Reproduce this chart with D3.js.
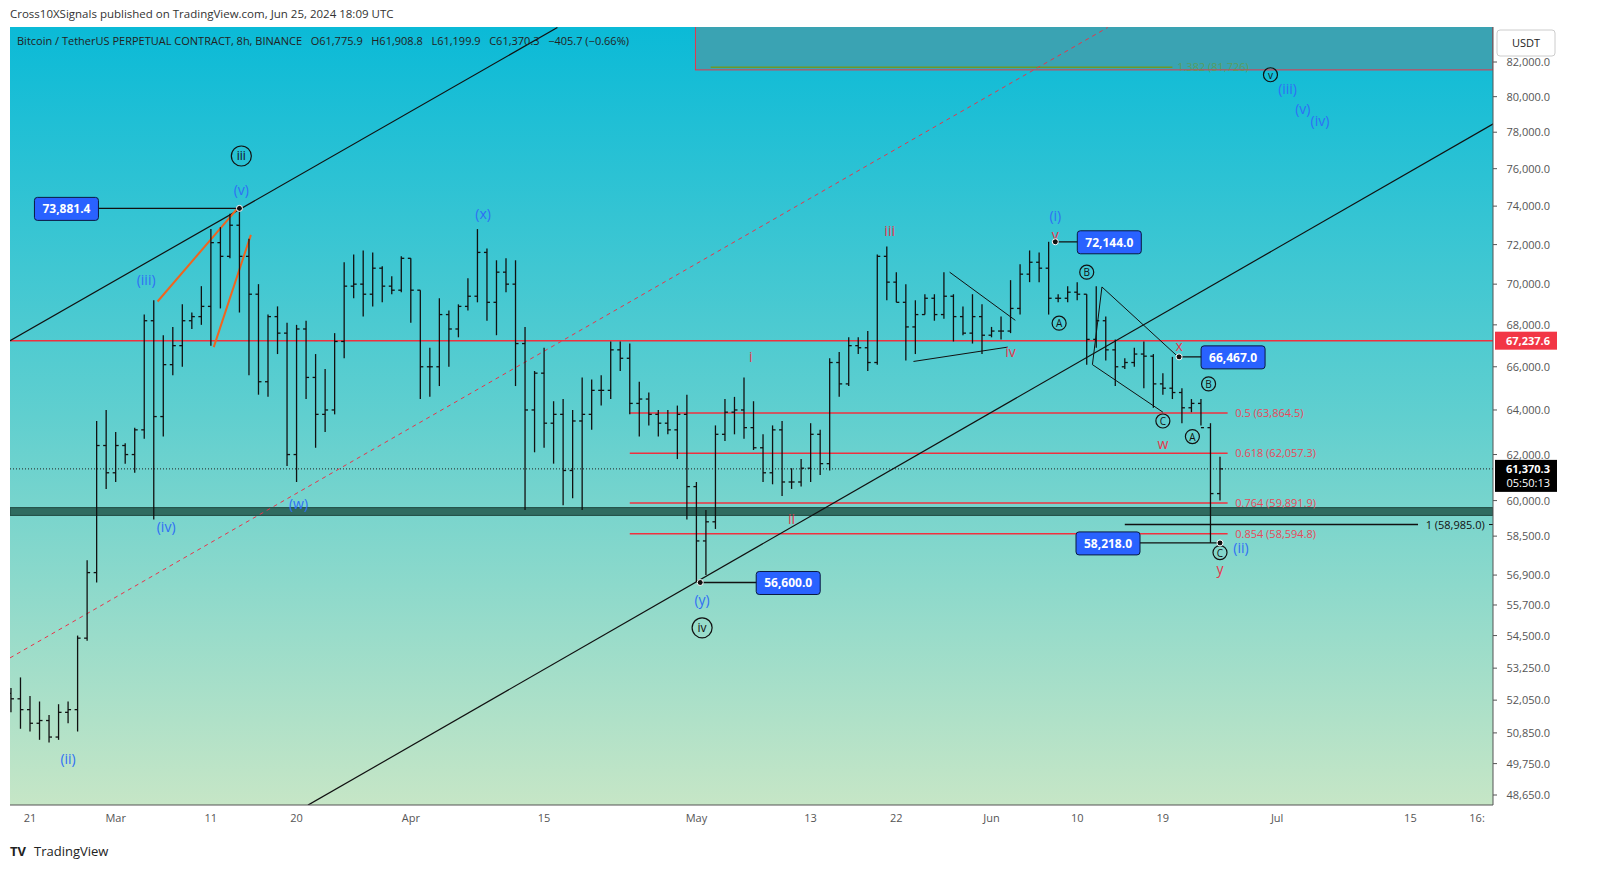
<!DOCTYPE html>
<html><head><meta charset="utf-8">
<script src="https://cdn.jsdelivr.net/npm/d3@7.9.0/dist/d3.min.js"></script>
<style>
html,body{margin:0;padding:0;background:#fff;overflow:hidden;font-family:"Open Sans","DejaVu Sans",sans-serif;}
svg{display:block;}
svg text{font-family:"Open Sans","DejaVu Sans",sans-serif;}
</style></head>
<body><svg id="chart" width="1599" height="884"></svg>
<script>
// daily bars from Feb 19, 2024 (day -2 relative to Feb 21) — [high, low, close] in thousands
const startDay = -2;
const highs = [52.5,52.9,52.2,52.0,51.5,51.9,52.0,54.5,57.5,63.5,64.0,63.0,62.5,63.2,68.5,69.2,67.5,67.9,69.0,68.6,
  69.9,72.8,72.9,73.6,73.881,72.3,70.0,68.5,68.9,68.1,68.0,68.2,66.6,65.9,67.6,71.1,71.5,71.7,71.6,70.9,
  70.4,71.4,71.3,69.7,66.9,69.3,68.7,69.0,70.3,72.8,71.8,71.2,71.3,71.2,67.9,65.8,66.9,64.4,64.5,64.0,
  65.5,65.4,65.6,67.2,67.2,67.1,65.3,64.8,64.0,64.0,64.2,64.7,60.8,59.6,63.3,64.5,64.6,65.5,64.4,62.9,
  63.3,63.5,61.4,61.8,63.4,63.1,66.4,66.7,67.4,67.4,67.7,71.5,71.9,70.6,70.0,69.2,69.5,69.5,70.6,69.5,
  68.9,69.5,69.0,67.9,68.4,70.2,71.0,71.7,71.6,72.144,69.5,69.9,70.1,69.5,69.9,68.4,67.3,66.4,66.9,67.2,
  66.6,65.7,66.467,65.0,64.5,64.5,63.4,61.9];
const lows = [51.6,51.0,50.9,50.6,50.5,50.6,51.2,50.9,54.3,56.6,60.5,60.8,61.6,61.2,62.7,59.2,62.8,65.6,66.0,67.8,
  68.0,67.0,68.8,71.3,68.6,65.6,64.7,64.6,66.6,61.5,60.8,64.5,62.3,63.0,63.8,66.4,69.3,68.4,68.9,69.1,
  69.5,69.6,68.1,64.5,64.6,65.1,66.0,67.4,68.7,69.1,68.2,67.5,69.6,65.1,59.6,62.1,62.3,61.6,59.8,60.1,
  59.6,63.1,64.2,64.5,65.8,63.8,62.8,63.3,62.8,62.9,61.8,59.2,56.6,56.9,58.8,62.6,62.9,62.7,62.2,60.8,
  60.7,60.2,60.5,60.6,60.8,61.1,61.3,64.6,65.1,66.6,65.8,66.1,69.2,69.1,66.3,66.6,68.5,68.2,68.3,67.2,
  67.5,67.1,66.6,67.4,67.3,67.6,68.5,70.1,70.1,68.5,69.1,69.1,69.2,66.1,66.9,66.3,65.1,65.9,66.0,65.0,
  64.1,64.7,64.5,63.4,63.9,63.3,58.218,60.0];
const closes = [52.1,51.7,51.2,51.3,50.7,51.6,51.7,54.4,57.0,62.4,61.2,62.4,62.0,63.1,68.2,63.7,66.1,67.0,68.2,68.4,
  68.9,72.1,71.4,73.0,71.4,69.5,65.3,68.4,67.6,62.0,67.8,65.5,63.8,64.0,67.2,69.9,70.0,69.5,70.8,69.9,
  69.7,71.3,69.7,66.0,66.0,68.5,67.8,68.9,69.4,71.6,69.1,70.6,70.0,67.1,64.0,65.7,63.4,63.8,61.3,63.5,
  63.8,64.9,64.9,66.8,66.4,64.3,64.5,63.8,63.4,63.1,63.8,60.6,58.3,59.1,62.9,63.9,64.0,63.2,62.3,61.2,
  63.1,60.8,60.8,61.4,62.9,61.6,66.2,65.2,67.0,66.9,66.2,71.4,70.1,69.1,67.9,68.5,69.3,68.5,69.4,68.4,
  67.6,68.4,67.5,67.7,67.7,68.8,70.5,71.1,70.8,69.3,69.3,69.6,69.5,67.3,68.2,66.8,66.0,66.2,66.6,66.5,
  65.2,65.0,64.8,64.1,64.3,63.2,60.3,61.370];
const firstOpen = 52.3;

const priceTicks = [82000,80000,78000,76000,74000,72000,70000,68000,66000,64000,62000,60000,58500,56900,55700,54500,53250,52050,50850,49750,48650];
const dateTicks = [["2024-02-21","21"],["2024-03-01","Mar"],["2024-03-11","11"],["2024-03-20","20"],["2024-04-01","Apr"],["2024-04-15","15"],
  ["2024-05-01","May"],["2024-05-13","13"],["2024-05-22","22"],["2024-06-01","Jun"],["2024-06-10","10"],["2024-06-19","19"],["2024-07-01","Jul"],["2024-07-15","15"],["2024-07-22","16:"]];

// fib levels
const fibs = [["0.5",63864.5],["0.618",62057.3],["0.764",59891.9],["0.854",58594.8]];
// wave labels: [day, price, text, color, circled]
const waves = [
  [4.0,49900,"(ii)","#2f6ff5",0],[12.2,70200,"(iii)","#2f6ff5",0],[14.3,58900,"(iv)","#2f6ff5",0],[22.2,74860,"(v)","#2f6ff5",0],
  [22.2,76690,"iii","#111",1],[28.2,59850,"(w)","#2f6ff5",0],[47.6,73580,"(x)","#2f6ff5",0],[70.6,55900,"(y)","#2f6ff5",0],
  [70.6,54800,"iv","#111",1],[75.7,66440,"i","#e8344a",0],[80,59230,"ii","#e8344a",0],[90.3,72700,"iii","#e8344a",0],
  [103,66680,"iv","#e8344a",0],[107.7,73500,"(i)","#2f6ff5",0],[107.7,72500,"v","#e8344a",0],[108.1,68080,"A","#111",1],
  [111,70600,"B","#111",1],[119,63500,"C","#111",1],[119,62470,"w","#e8344a",0],[120.7,67000,"x","#e8344a",0],
  [123.8,65200,"B","#111",1],[122.1,62800,"A","#111",1],[125,57820,"C","#111",1],[127.2,58000,"(ii)","#2f6ff5",0],
  [125,57150,"y","#e8344a",0],[130.3,81260,"v","#111",1],[132.1,80440,"(iii)","#2f6ff5",0],[133.7,79300,"(v)","#2f6ff5",0],[135.5,78630,"(iv)","#2f6ff5",0]
];
// price callouts: [day, price, label, box dx]
const callouts = [[22,73881.4,"73,881.4",-173],[107.7,72144.0,"72,144.0",54],[120.7,66467.0,"66,467.0",54],[125,58218.0,"58,218.0",-112],[70.4,56600.0,"56,600.0",88]];
// drawn lines: [day1, price1, day2, price2, color, dash, width]
const drawn = [
  [-2.1,67237,55.4,84040,"#111",null,1.2],
  [29.2,48300,154,78560,"#111",null,1.2],
  [-2.1,53640,113.2,84040,"#e8344a","4,4",1],
  [13.4,69140,21.8,73880,"#f0641e",null,2],
  [19.3,66930,23.2,72500,"#f0641e",null,2],
  [92.8,66250,102.7,66930,"#111",null,1],
  [96.6,70600,103.5,68220,"#111",null,1],
  [112.6,69860,120.6,66467,"#111",null,1],
  [111.6,66100,119,63900,"#111",null,1],
  [112.6,69860,111.6,66100,"#111",null,1]
];
const redLevel = 67237.6, lastPrice = 61370.3;

const plot = {l:10, r:1493, t:27, b:805};
const base = new Date(2024,1,21);
const dayDate = d => new Date(base.getTime() + d*864e5);
const x = d3.scaleTime().domain([base, dayDate(150)]).range([30, 30 + 150*9.52]);
const y = d3.scaleLog().domain([48650, 82000]).range([795, 62]);
const X = d => x(dayDate(d));

const svg = d3.select("#chart");
const defs = svg.append("defs");
const grad = defs.append("linearGradient").attr("id","bg").attr("x1",0).attr("y1",0).attr("x2",0).attr("y2",1);
grad.append("stop").attr("offset","0%").attr("stop-color","#0bbad7");
grad.append("stop").attr("offset","50%").attr("stop-color","#60cfcf");
grad.append("stop").attr("offset","100%").attr("stop-color","#c6e6c6");
defs.append("clipPath").attr("id","clip").append("rect")
  .attr("x",plot.l).attr("y",plot.t).attr("width",plot.r-plot.l).attr("height",plot.b-plot.t);

svg.append("rect").attr("x",plot.l).attr("y",plot.t).attr("width",plot.r-plot.l).attr("height",plot.b-plot.t).attr("fill","url(#bg)");
const g = svg.append("g").attr("clip-path","url(#clip)");

// projection box on top
g.append("rect").attr("x",X(69.9)).attr("y",plot.t-5).attr("width",plot.r-X(69.9)).attr("height",y(81540)-plot.t+5)
  .attr("fill","#3aa3b3").attr("stroke","#e8344a").attr("stroke-width",1);
g.append("line").attr("x1",X(71.5)).attr("x2",X(120)).attr("y1",y(81700)).attr("y2",y(81700)).attr("stroke","#6a9a2a").attr("stroke-width",1.5);
g.append("text").attr("x",X(120.5)).attr("y",y(81700)+4).attr("font-size",11).attr("fill","#6a9a2a").attr("opacity",0.6).text("1.382 (81,726)");

// support band
g.append("rect").attr("x",plot.l).attr("width",plot.r-plot.l).attr("y",y(59700)).attr("height",y(59370)-y(59700))
  .attr("fill","#2f6b60").attr("stroke","#1f4a42");

// red horizontal level
g.append("line").attr("x1",plot.l).attr("x2",plot.r).attr("y1",y(redLevel)).attr("y2",y(redLevel)).attr("stroke","#f0303f").attr("stroke-width",1.5);

// fib lines
fibs.forEach(([f,p]) => {
  g.append("line").attr("x1",X(63)).attr("x2",X(125.8)).attr("y1",y(p)).attr("y2",y(p)).attr("stroke","#f0303f").attr("stroke-width",1.5);
  g.append("text").attr("x",X(126.6)).attr("y",y(p)+4).attr("font-size",11).attr("fill","#e8485a")
    .text(`${f} (${d3.format(",.1f")(p)})`);
});
// 1 (58,985.0)
g.append("line").attr("x1",X(115)).attr("x2",X(145.8)).attr("y1",y(58985)).attr("y2",y(58985)).attr("stroke","#111").attr("stroke-width",1.5);
g.append("text").attr("x",X(146.6)).attr("y",y(58985)+4).attr("font-size",11).attr("fill","#111").text("1 (58,985.0)");
g.append("line").attr("x1",plot.r-4).attr("x2",plot.r).attr("y1",y(58985)).attr("y2",y(58985)).attr("stroke","#111");

// current price dotted
g.append("line").attr("x1",plot.l).attr("x2",plot.r).attr("y1",y(lastPrice)).attr("y2",y(lastPrice))
  .attr("stroke","#222").attr("stroke-dasharray","1,2");

// drawn lines
drawn.forEach(([d1,p1,d2,p2,c,dash,w]) => {
  g.append("line").attr("x1",X(d1)).attr("y1",y(p1)).attr("x2",X(d2)).attr("y2",y(p2))
    .attr("stroke",c).attr("stroke-width",w).attr("stroke-dasharray",dash);
});

// OHLC bars
const bars = closes.map((c,i) => ({d:startDay+i, o:(i?closes[i-1]:firstOpen)*1000, h:highs[i]*1000, l:lows[i]*1000, c:c*1000}));
const bg = g.append("g").attr("stroke","#111").attr("stroke-width",1.3);
bars.forEach(b => {
  const cx = X(b.d);
  bg.append("line").attr("x1",cx).attr("x2",cx).attr("y1",y(b.h)).attr("y2",y(b.l));
  bg.append("line").attr("x1",cx-3).attr("x2",cx).attr("y1",y(b.o)).attr("y2",y(b.o));
  bg.append("line").attr("x1",cx).attr("x2",cx+3).attr("y1",y(b.c)).attr("y2",y(b.c));
});

// wave labels
waves.forEach(([d,p,t,c,circ]) => {
  const cx = X(d), cy = y(p);
  if (circ) {
    g.append("circle").attr("cx",cx).attr("cy",cy).attr("r",t.length>1?10:7).attr("fill","none").attr("stroke","#111").attr("stroke-width",1.2);
    g.append("text").attr("x",cx).attr("y",cy+4).attr("text-anchor","middle").attr("font-size",t.length>1?12:10).attr("fill",c).text(t);
  } else {
    g.append("text").attr("x",cx).attr("y",cy+5).attr("text-anchor","middle").attr("font-size",14).attr("fill",c).text(t);
  }
});

// callouts
callouts.forEach(([d,p,t,dx]) => {
  const cx = X(d), cy = y(p), bx = cx+dx;
  g.append("line").attr("x1",cx).attr("x2",bx).attr("y1",cy).attr("y2",cy).attr("stroke","#111").attr("stroke-width",1.3);
  g.append("circle").attr("cx",cx).attr("cy",cy).attr("r",3).attr("fill","#111").attr("stroke","#fff");
  g.append("rect").attr("x",bx-32).attr("y",cy-11).attr("width",64).attr("height",23).attr("rx",3)
    .attr("fill","#2962ff").attr("stroke","#0a1a40");
  g.append("text").attr("x",bx).attr("y",cy+5).attr("text-anchor","middle").attr("font-size",12).attr("font-weight","bold").attr("fill","#fff").text(t);
});

// right price axis
svg.append("line").attr("x1",plot.r).attr("x2",plot.r).attr("y1",plot.t).attr("y2",plot.b).attr("stroke","#555");
priceTicks.forEach(p => {
  svg.append("line").attr("x1",plot.r).attr("x2",plot.r+4).attr("y1",y(p)).attr("y2",y(p)).attr("stroke","#555");
  svg.append("text").attr("x",1550).attr("y",y(p)+4).attr("text-anchor","end").attr("font-size",11).attr("fill","#555").text(d3.format(",.1f")(p));
});
svg.append("rect").attr("x",plot.r+2).attr("y",y(redLevel)-9).attr("width",62).attr("height",18).attr("fill","#f23645");
svg.append("text").attr("x",1550).attr("y",y(redLevel)+4).attr("text-anchor","end").attr("font-size",11).attr("font-weight","bold").attr("fill","#fff").text("67,237.6");
svg.append("rect").attr("x",plot.r+2).attr("y",y(lastPrice)-9).attr("width",62).attr("height",32).attr("fill","#000");
svg.append("text").attr("x",1550).attr("y",y(lastPrice)+4).attr("text-anchor","end").attr("font-size",11).attr("font-weight","bold").attr("fill","#fff").text("61,370.3");
svg.append("text").attr("x",1550).attr("y",y(lastPrice)+18).attr("text-anchor","end").attr("font-size",11).attr("fill","#fff").text("05:50:13");
svg.append("rect").attr("x",1497).attr("y",30).attr("width",58).attr("height",26).attr("rx",3).attr("fill","#fff").attr("stroke","#ccc");
svg.append("text").attr("x",1526).attr("y",47).attr("text-anchor","middle").attr("font-size",11).attr("fill","#222").text("USDT");

// bottom date axis
svg.append("line").attr("x1",plot.l).attr("x2",plot.r).attr("y1",plot.b).attr("y2",plot.b).attr("stroke","#555");
dateTicks.forEach(([ds,t]) => {
  const xx = x(d3.timeParse("%Y-%m-%d")(ds));
  svg.append("text").attr("x",xx).attr("y",plot.b+17).attr("text-anchor","middle").attr("font-size",11).attr("fill","#555").text(t);
});

// header
svg.append("text").attr("x",10).attr("y",18).attr("font-size",11.5).attr("fill","#333").text("Cross10XSignals published on TradingView.com, Jun 25, 2024 18:09 UTC");
svg.append("text").attr("x",17).attr("y",45).attr("font-size",11).attr("fill","#222").attr("xml:space","preserve")
  .text("Bitcoin / TetherUS PERPETUAL CONTRACT, 8h, BINANCE   O61,775.9   H61,908.8   L61,199.9   C61,370.3   −405.7 (−0.66%)");
// footer
svg.append("text").attr("x",10).attr("y",856).attr("font-size",13).attr("font-weight","bold").attr("fill","#222").text("TV");
svg.append("text").attr("x",34).attr("y",856).attr("font-size",13).attr("fill","#222").text("TradingView");
</script></body></html>
